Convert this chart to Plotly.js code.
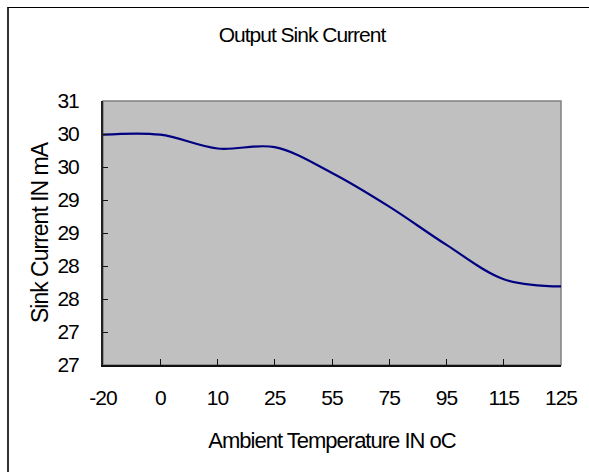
<!DOCTYPE html>
<html>
<head>
<meta charset="utf-8">
<script src="https://cdn.plot.ly/plotly-3.0.1.min.js"></script>
<style>
  html, body { margin: 0; padding: 0; background: #fff; }
  #wrap { position: relative; width: 589px; height: 472px; overflow: hidden; }
  #chart { position: absolute; left: 0; top: 0; width: 589px; height: 472px; }
  #chart text { letter-spacing: -1px; }
  #frame { position: absolute; left: 7px; top: 7px; width: 600px; height: 480px;
           border-left: 2px solid #333; border-top: 1px solid #000; pointer-events: none; box-sizing: border-box; }
</style>
</head>
<body>
<div id="wrap">
  <div id="chart"></div>
  <div id="frame"></div>
</div>
<script>
// Data
const temperatures = ["-20", "0", "10", "25", "55", "75", "95", "115", "125"];
const sinkCurrent  = [30.49, 30.49, 30.28, 30.30, 29.91, 29.40, 28.82, 28.30, 28.19];
const yTickValues  = [27, 27.5, 28, 28.5, 29, 29.5, 30, 30.5, 31];
const yTickLabels  = ["27", "27", "28", "28", "29", "29", "30", "30", "31"];

const FONT = "Liberation Sans, Arial, Helvetica, sans-serif";

const trace = {
  type: "scatter",
  mode: "lines",
  x: temperatures,
  y: sinkCurrent,
  line: { color: "#000080", width: 2.2, shape: "spline", smoothing: 1 },
  hoverinfo: "x+y"
};

const layout = {
  width: 589,
  height: 472,
  margin: { l: 103, r: 28, t: 101, b: 107, pad: 0 },
  paper_bgcolor: "#ffffff",
  plot_bgcolor: "#c0c0c0",
  showlegend: false,
  font: { family: FONT, color: "#000", size: 21 },
  title: {
    text: "Output Sink Current",
    font: { family: FONT, size: 21, color: "#000" },
    xref: "container", yref: "container",
    x: 302 / 589, xanchor: "center",
    y: 1 - 35 / 472, yanchor: "middle"
  },
  xaxis: {
    type: "category",
    range: [0, temperatures.length - 1],
    showgrid: false,
    zeroline: false,
    showline: true, linecolor: "#111", linewidth: 2,
    ticks: "inside", ticklen: 6, tickwidth: 1, tickcolor: "#111",
    tickfont: { family: FONT, size: 21, color: "#000" },
    ticklabelstandoff: 13,
    fixedrange: true,
    title: { text: "Ambient Temperature IN oC", font: { family: FONT, size: 22, color: "#000" }, standoff: 24 }
  },
  yaxis: {
    range: [27, 31],
    tickmode: "array",
    tickvals: yTickValues,
    ticktext: yTickLabels,
    showgrid: false,
    zeroline: false,
    showline: true, linecolor: "#222", linewidth: 2,
    ticks: "inside", ticklen: 5, tickwidth: 1, tickcolor: "#111",
    tickfont: { family: FONT, size: 21, color: "#000" },
    ticklabelstandoff: 18,
    fixedrange: true,
    title: { text: "Sink Current IN mA", font: { family: FONT, size: 23, color: "#000" }, standoff: 0 }
  },
  shapes: [
    { type: "rect", xref: "paper", yref: "paper", x0: 0, x1: 1, y0: 0, y1: 1,
      line: { color: "#808080", width: 1.5 }, fillcolor: "rgba(0,0,0,0)", layer: "below" }
  ]
};

Plotly.newPlot("chart", [trace], layout, { displayModeBar: false, staticPlot: true });
</script>
</body>
</html>
